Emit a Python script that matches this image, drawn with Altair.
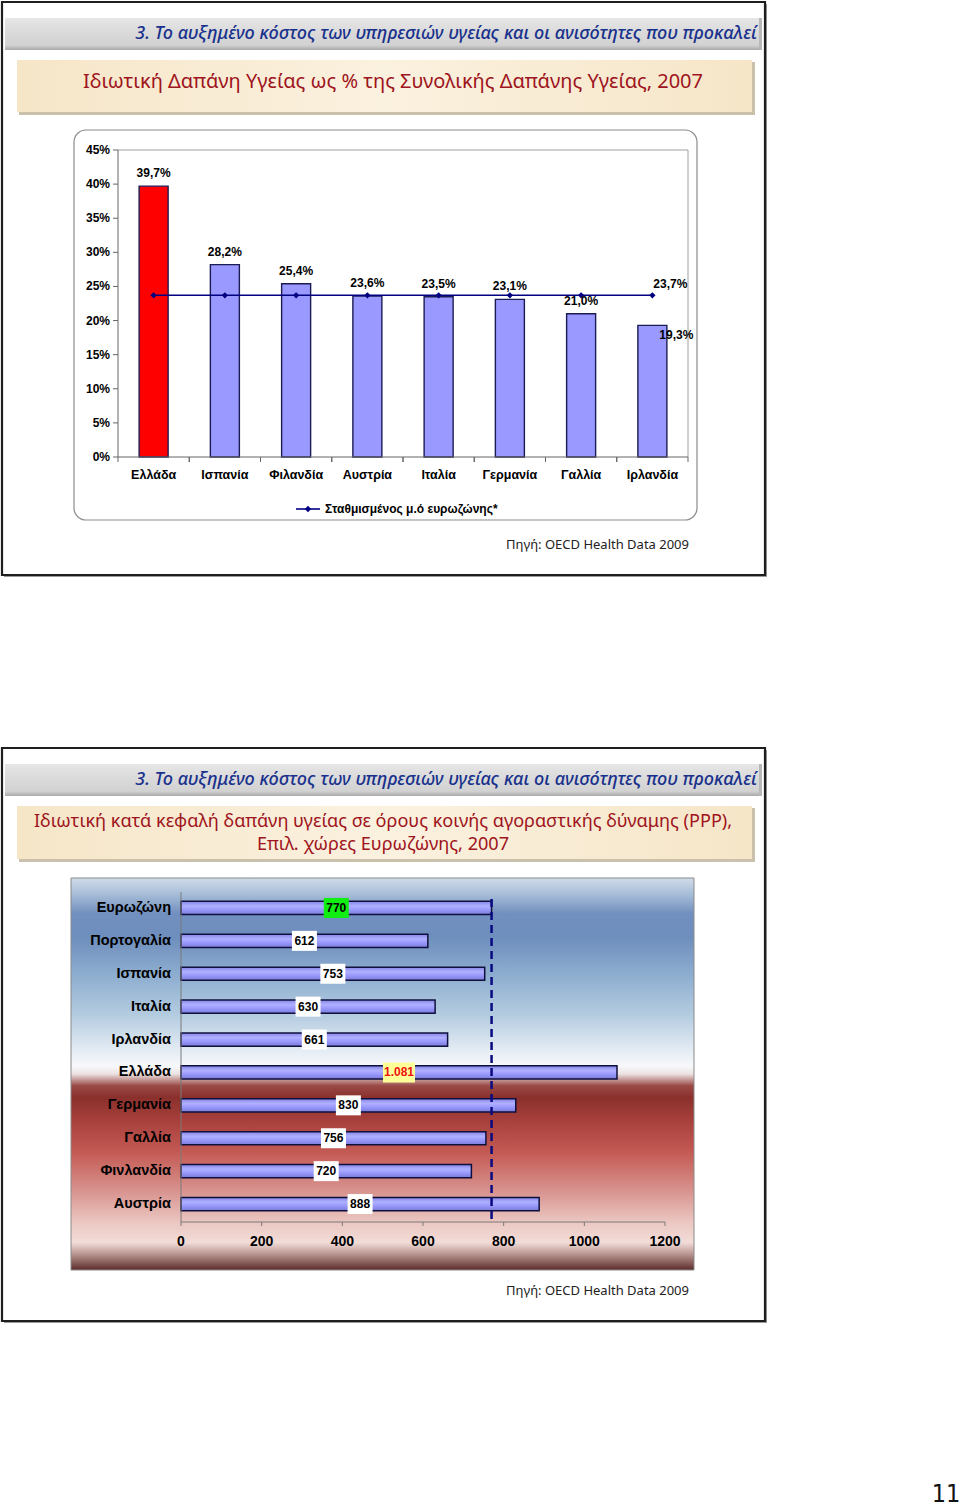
import altair as alt
import pandas as pd

# ---------------- data ----------------
countries1 = ["Ελλάδα", "Ισπανία", "Φιλανδία", "Αυστρία", "Ιταλία", "Γερμανία", "Γαλλία", "Ιρλανδία"]
private_share = [39.7, 28.2, 25.4, 23.6, 23.5, 23.1, 21.0, 19.3]
eurozone_avg = [23.7, 23.7, 23.7, 23.7, 23.7, 23.7, 23.7, 23.7]
yticks1 = [0, 5, 10, 15, 20, 25, 30, 35, 40, 45]

countries2 = ["Ευρωζώνη", "Πορτογαλία", "Ισπανία", "Ιταλία", "Ιρλανδία",
              "Ελλάδα", "Γερμανία", "Γαλλία", "Φινλανδία", "Αυστρία"]
ppp_per_capita = [770, 612, 753, 630, 661, 1081, 830, 756, 720, 888]
eurozone_ref = [770]
xticks2 = [0, 200, 400, 600, 800, 1000, 1200]

header_text = "3. Το αυξημένο κόστος των υπηρεσιών υγείας και οι ανισότητες που προκαλεί"
title1 = "Ιδιωτική Δαπάνη Υγείας ως % της Συνολικής Δαπάνης Υγείας, 2007"
title2a = "Ιδιωτική κατά κεφαλή δαπάνη υγείας σε όρους κοινής αγοραστικής δύναμης (PPP),"
title2b = "Επιλ. χώρες Ευρωζώνης, 2007"
legend1 = "Σταθμισμένος μ.ό ευρωζώνης*"
source = "Πηγή: OECD Health Data 2009"
page_no = "11"

# ---------------- helpers ----------------
one = alt.Data(values=[{"a": 1}])
SANS = "Liberation Sans"
TXT = "Noto Sans"


def box(x, x2, y, y2, **mk):
    return alt.Chart(one).mark_rect(**mk).encode(
        x=alt.value(x), x2=alt.value(x2), y=alt.value(y), y2=alt.value(y2))


def hline(x, x2, y, **mk):
    return alt.Chart(one).mark_rule(**mk).encode(x=alt.value(x), x2=alt.value(x2), y=alt.value(y))


def vline(x, y, y2, **mk):
    return alt.Chart(one).mark_rule(**mk).encode(x=alt.value(x), y=alt.value(y), y2=alt.value(y2))


def label(x, y, text, **mk):
    return alt.Chart(one).mark_text(text=text, baseline="middle", **mk).encode(
        x=alt.value(x), y=alt.value(y))


def vgrad(stops):
    return alt.Gradient(gradient="linear", x1=0, x2=0, y1=0, y2=1,
                        stops=[alt.GradientStop(offset=o, color=c) for o, c in stops])


def hgrad(stops):
    return alt.Gradient(gradient="linear", x1=0, x2=1, y1=0, y2=0,
                        stops=[alt.GradientStop(offset=o, color=c) for o, c in stops])


layers = []

# ---------------- slide decorations ----------------
for top, bottom in [(2, 575), (748, 1321)]:
    layers.append(box(4, 767, top + 2, bottom + 2, fill="#9a9a9a"))
    layers.append(box(2, 765, top, bottom, fill="white", stroke="#1e1e1e", strokeWidth=2.2))
    hy = top + 16
    layers.append(box(5, 762, hy, hy + 32,
                      fill=vgrad([(0, "#e6e6e6"), (0.5, "#d9d9d9"), (0.85, "#d2d2d2"), (1, "#a9a9a9")])))
    layers.append(box(759, 762, hy, hy + 32, fill="#b8b8b8"))
    layers.append(label(757, hy + 16, header_text, align="right", font=TXT, fontStyle="italic",
                        fontSize=18, fontWeight=500, color="#18318c"))
    ty = top + 58
    th = 52 if top < 100 else 53
    layers.append(box(19, 755, ty + 2, ty + th + 3, fill="#c9c1ac"))
    layers.append(box(17, 752, ty, ty + th,
                      fill=hgrad([(0, "#f6e6c8"), (0.5, "#fbf1df"), (1, "#f6e6c8")])))

layers.append(label(393, 82, title1, align="center", font=TXT, fontSize=20, color="#9e1420"))
layers.append(label(383, 822, title2a, align="center", font=TXT, fontSize=18.1, color="#9e1420"))
layers.append(label(383, 845, title2b, align="center", font=TXT, fontSize=18.1, color="#9e1420"))

layers.append(label(689, 545, source, align="right", font=TXT, fontSize=13, color="#222222"))
layers.append(label(689, 1291, source, align="right", font=TXT, fontSize=13, color="#222222"))
layers.append(label(946, 1494, page_no, align="center", font="DejaVu Sans Condensed", fontSize=25,
                    color="#111111"))

# ---------------- chart 1 ----------------
layers.append(box(74, 697, 130, 520, fill="white", stroke="#8c8c8c", strokeWidth=1.2, cornerRadius=12))

df1 = pd.DataFrame({"country": countries1, "share": private_share, "avg": eurozone_avg})
df1["label"] = [f"{v:.1f}".replace(".", ",") + "%" for v in private_share]
df1["avg_label"] = [f"{v:.1f}".replace(".", ",") + "%" for v in eurozone_avg]

band1 = dict(type="band", domain=countries1, range=[118, 688], paddingInner=0.593, paddingOuter=0.2965)
yscale1 = alt.Scale(domain=[0, 45], range=[457, 150], nice=False, zero=True)


def x1(bp=None):
    if bp is None:
        return alt.X("country:N", scale=alt.Scale(**band1), axis=None)
    return alt.X("country:N", scale=alt.Scale(**band1), axis=None, bandPosition=bp)


def y1(field):
    return alt.Y(f"{field}:Q", scale=yscale1, axis=None)


base1 = alt.Chart(df1)

# plot frame
layers.append(hline(118, 688, 150, color="#a0a0a0", strokeWidth=1))
layers.append(vline(688, 150, 457, color="#a0a0a0", strokeWidth=1))

layers.append(base1.mark_bar(stroke="#1c1c55", strokeWidth=1.4).encode(
    x=x1(), y=y1("share"),
    fill=alt.condition(alt.datum.country == "Ελλάδα", alt.value("#ff0000"), alt.value("#9999ff"))))

layers.append(base1.mark_line(color="#000080", strokeWidth=1.6).encode(x=x1(0.5), y=y1("avg")))
layers.append(base1.mark_point(shape="diamond", filled=True, size=40, color="#000080", opacity=1).encode(
    x=x1(0.5), y=y1("avg")))

lab_style = dict(font=SANS, fontSize=12, fontWeight="bold", color="black", baseline="middle")
layers.append(base1.mark_text(dy=-13, **lab_style).encode(
    x=x1(0.5), y=y1("share"), text="label:N").transform_filter(alt.datum.country != "Ιρλανδία"))
layers.append(base1.mark_text(dx=24, dy=10, **lab_style).encode(
    x=x1(0.5), y=y1("share"), text="label:N").transform_filter(alt.datum.country == "Ιρλανδία"))
layers.append(base1.mark_text(dx=18, dy=-11, **lab_style).encode(
    x=x1(0.5), y=y1("avg"), text="avg_label:N").transform_filter(alt.datum.country == "Ιρλανδία"))

# axes chart 1
layers.append(vline(118, 150, 457, color="#666666", strokeWidth=1))
layers.append(hline(118, 688, 457, color="#666666", strokeWidth=1))
ydf1 = pd.DataFrame({"t": yticks1, "lab": [f"{t}%" for t in yticks1]})
layers.append(alt.Chart(ydf1).mark_rule(color="#666666").encode(
    y=alt.Y("t:Q", scale=yscale1, axis=None), x=alt.value(113), x2=alt.value(118)))
layers.append(alt.Chart(ydf1).mark_text(align="right", **lab_style).encode(
    y=alt.Y("t:Q", scale=yscale1, axis=None), x=alt.value(110), text="lab:N"))
edge1 = dict(type="band", domain=countries1, range=[118, 688], paddingInner=0, paddingOuter=0)
for bp in (0, 1):
    layers.append(base1.mark_rule(color="#666666").encode(
        x=alt.X("country:N", scale=alt.Scale(**edge1), axis=None, bandPosition=bp),
        y=alt.value(457), y2=alt.value(462)))
x_lab_style = dict(lab_style)
x_lab_style["fontSize"] = 12.5
layers.append(base1.mark_text(**x_lab_style).encode(
    x=x1(0.5), y=alt.value(475), text="country:N"))

# legend chart 1
layers.append(hline(296, 320, 509, color="#000080", strokeWidth=1.6))
layers.append(alt.Chart(one).mark_point(shape="diamond", filled=True, size=40, color="#000080", opacity=1)
              .encode(x=alt.value(308), y=alt.value(509)))
layers.append(label(325, 509, legend1, align="left", font=SANS, fontSize=12, fontWeight="bold",
                    color="black"))

# ---------------- chart 2 ----------------
bg2 = vgrad([(0.00, "#d0dcea"), (0.04, "#a8bed8"), (0.09, "#7290bf"), (0.15, "#6e8ebd"),
             (0.25, "#8eaed0"), (0.35, "#b4cce0"), (0.44, "#e4ecf4"), (0.48, "#f7f8fa"),
             (0.50, "#ece2e2"), (0.53, "#9a4a46"), (0.56, "#8a302c"), (0.62, "#a8403c"),
             (0.70, "#c45a54"), (0.80, "#d89490"), (0.88, "#ecc8c2"), (0.93, "#f2dcd8"),
             (0.96, "#b89490"), (1.00, "#5c2c2a")])
layers.append(box(71, 694, 878, 1270, fill=bg2, stroke="#8a8a8a", strokeWidth=1))

df2 = pd.DataFrame({"country": countries2, "value": ppp_per_capita})
df2["label"] = [f"{v:,}".replace(",", ".") for v in ppp_per_capita]
yscale2 = alt.Scale(type="band", domain=countries2, range=[891.5, 1220.5], paddingInner=0.6, paddingOuter=0.3)
xscale2 = alt.Scale(domain=[0, 1200], range=[181, 665], nice=False, zero=True)
y2 = alt.Y("country:N", scale=yscale2, axis=None)
base2 = alt.Chart(df2)

bar_fill = vgrad([(0, "#8585e8"), (0.35, "#b0b0ff"), (0.6, "#9c9cff"), (1, "#7a7ad8")])
layers.append(base2.mark_bar(fill=bar_fill, stroke="#10103c", strokeWidth=1.5).encode(
    x=alt.X("value:Q", scale=xscale2, axis=None), y=y2))

# axes chart 2
layers.append(vline(181, 892, 1222, color="#7a7a7a", strokeWidth=1))
layers.append(hline(181, 665, 1222, color="#7a7a7a", strokeWidth=1))
xdf2 = pd.DataFrame({"t": xticks2})
layers.append(alt.Chart(xdf2).mark_rule(color="#7a7a7a").encode(
    x=alt.X("t:Q", scale=xscale2, axis=None), y=alt.value(1222), y2=alt.value(1226)))
layers.append(alt.Chart(xdf2).mark_text(font=SANS, fontSize=14, fontWeight="bold", color="black",
                                        baseline="middle").encode(
    x=alt.X("t:Q", scale=xscale2, axis=None), y=alt.value(1242), text="t:Q"))
layers.append(base2.mark_text(align="right", font=SANS, fontSize=14.5, fontWeight="bold", color="black",
                              baseline="middle").encode(
    y=alt.Y("country:N", scale=yscale2, axis=None, bandPosition=0.5), x=alt.value(171), text="country:N"))

# eurozone reference line
layers.append(alt.Chart(pd.DataFrame({"ref": eurozone_ref})).mark_rule(
    color="#0a0a80", strokeWidth=2.5, strokeDash=[8, 5]).encode(
    x=alt.X("ref:Q", scale=xscale2, axis=None), y=alt.value(899), y2=alt.value(1222)))

# value label boxes
mid = alt.X("mid:Q", scale=xscale2, axis=None)
yc2 = alt.Y("country:N", scale=yscale2, axis=None, bandPosition=0.5)
layers.append(base2.transform_calculate(mid="datum.value / 2").mark_point(
    shape="M-1.25,-1L1.25,-1L1.25,1L-1.25,1Z", size=400, filled=True, opacity=1, strokeWidth=0).encode(
    x=mid, y=yc2,
    fill=alt.condition(alt.datum.country == "Ευρωζώνη", alt.value("#11ee11"),
                       alt.value("#ffffff"))).transform_filter(alt.datum.country != "Ελλάδα"))
layers.append(base2.transform_calculate(mid="datum.value / 2").mark_point(
    shape="M-1.6,-1L1.6,-1L1.6,1L-1.6,1Z", size=400, filled=True, opacity=1, strokeWidth=0,
    fill="#ffff99").encode(x=mid, y=yc2).transform_filter(alt.datum.country == "Ελλάδα"))
layers.append(base2.transform_calculate(mid="datum.value / 2").mark_text(
    font=SANS, fontSize=12, fontWeight="bold", baseline="middle").encode(
    x=mid, y=yc2, text="label:N",
    color=alt.condition(alt.datum.country == "Ελλάδα", alt.value("#ee1111"), alt.value("black"))))

chart = alt.layer(*layers).resolve_scale(x="independent", y="independent").properties(
    width=960, height=1507, autosize=alt.AutoSizeParams(type="none"), padding=0,
    background="white").configure_view(stroke=None)

chart.save("out.html", embed_options={"renderer": "svg", "actions": False})
